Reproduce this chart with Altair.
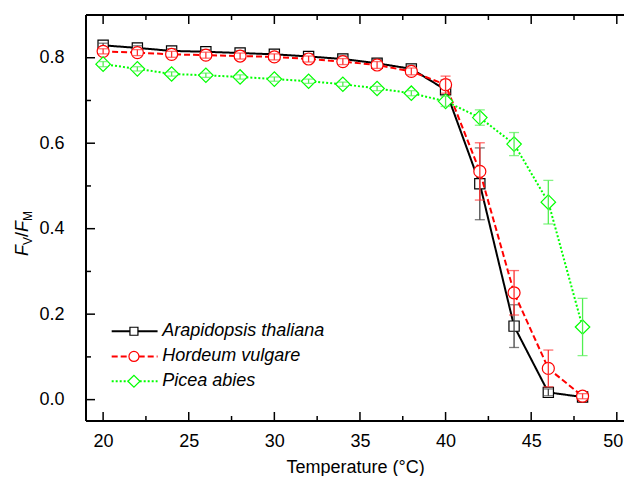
import altair as alt
import pandas as pd

# ---- data ----
temps = [20, 22, 24, 26, 28, 30, 32, 34, 36, 38, 40, 42, 44, 46, 48]
ara = [0.829, 0.823, 0.816, 0.814, 0.811, 0.808, 0.803, 0.797, 0.787, 0.774, 0.725, 0.505, 0.172, 0.017, 0.006]
ara_err = [0.005, 0.005, 0.005, 0.005, 0.005, 0.005, 0.006, 0.007, 0.009, 0.009, 0.023, 0.084, 0.050, 0.008, 0.005]
hor = [0.815, 0.812, 0.808, 0.806, 0.804, 0.802, 0.797, 0.791, 0.783, 0.768, 0.737, 0.534, 0.250, 0.073, 0.008]
hor_err = [0.006, 0.007, 0.007, 0.007, 0.007, 0.007, 0.007, 0.007, 0.008, 0.008, 0.020, 0.067, 0.052, 0.043, 0.006]
pic = [0.785, 0.774, 0.762, 0.759, 0.755, 0.750, 0.745, 0.738, 0.728, 0.717, 0.698, 0.660, 0.598, 0.462, 0.170]
pic_err = [0.006, 0.005, 0.005, 0.005, 0.005, 0.005, 0.005, 0.005, 0.005, 0.006, 0.012, 0.018, 0.027, 0.051, 0.067]

species = ["Arapidopsis thaliana", "Hordeum vulgare", "Picea abies"]
colors = ["#000000", "#FF0000", "#00FF00"]
errcolors = ["#444444", "#FF3030", "#50F050"]
shapes = ["square", "circle", "diamond"]
sizes = [105, 144, 210]
leg_sizes = [64, 100, 144]
dashes = [[1, 0], [6, 3], [2, 2]]

x_ticks_major = [20, 25, 30, 35, 40, 45, 50]
x_ticks_minor = [22.5, 27.5, 32.5, 37.5, 42.5, 47.5]
y_ticks_major = [0.0, 0.2, 0.4, 0.6, 0.8]
y_ticks_minor = [0.1, 0.3, 0.5, 0.7]

# legend placement (data units)
leg_x1, leg_x2, leg_xm, leg_xt = 20.5, 23.18, 21.8, 23.45
leg_y = [0.160, 0.101, 0.043]

# the reference's plot area runs past the right edge of the picture (axis ends near 51 °C);
# the visible part ends at about 50.42 °C
x_min, x_max_visible = 19, 50.42
y_min, y_max = -0.05, 0.9

W, H = 538, 406
FONT = "Liberation Sans"

xs = alt.Scale(domain=[x_min, x_max_visible], nice=False, zero=False)
ys = alt.Scale(domain=[y_min, y_max], nice=False, zero=False)
xaxis = alt.Axis(values=x_ticks_major, format="d", ticks=False, tickSize=0, domain=False, grid=False,
                 labelFontSize=18, labelFont=FONT, labelPadding=11, labelColor="black",
                 labelOffset={"condition": {"test": "datum.value == 50", "value": -4}, "value": 0},
                 title="Temperature (°C)", titleFontSize=18, titleFont=FONT, titleFontWeight="normal",
                 titlePadding=8, titleColor="black")
yaxis = alt.Axis(values=y_ticks_major, format=".1f", ticks=False, tickSize=0, domain=False, grid=False,
                 labelFontSize=18, labelFont=FONT, labelPadding=22, labelColor="black", title=None)


def X(f):
    return alt.X(f, type="quantitative", scale=xs, axis=xaxis)


def Y(f):
    return alt.Y(f, type="quantitative", scale=ys, axis=yaxis)


layers = []
one = pd.DataFrame({"a": [0]})

# frame: left, top, bottom (right edge lies outside the picture)
layers.append(alt.Chart(one).mark_rule(color="black", strokeWidth=2).encode(
    x=alt.value(0), y=alt.value(0), y2=alt.value(H)))
layers.append(alt.Chart(one).mark_rule(color="black", strokeWidth=2).encode(
    x=alt.value(0), x2=alt.value(W), y=alt.value(0)))
layers.append(alt.Chart(one).mark_rule(color="black", strokeWidth=2).encode(
    x=alt.value(0), x2=alt.value(W), y=alt.value(H)))

# tick marks (inward)
for vals, ln in [(x_ticks_major, 9), (x_ticks_minor, 5)]:
    d = pd.DataFrame({"v": vals})
    layers.append(alt.Chart(d).mark_rule(color="black", strokeWidth=1.5).encode(
        x=X("v"), y=alt.value(H - ln), y2=alt.value(H)))
    layers.append(alt.Chart(d).mark_rule(color="black", strokeWidth=1.5).encode(
        x=X("v"), y=alt.value(0), y2=alt.value(ln)))
for vals, ln in [(y_ticks_major, 9), (y_ticks_minor, 5)]:
    d = pd.DataFrame({"v": vals})
    layers.append(alt.Chart(d).mark_rule(color="black", strokeWidth=1.5).encode(
        y=Y("v"), x=alt.value(0), x2=alt.value(ln)))

series = [ara, hor, pic]
errs = [ara_err, hor_err, pic_err]
for i in range(3):
    df = pd.DataFrame({"T": temps, "v": series[i], "e": errs[i]})
    df["lo"] = df["v"] - df["e"]
    df["hi"] = df["v"] + df["e"]
    base = alt.Chart(df)
    layers.append(base.mark_line(color=colors[i], strokeWidth=2, strokeDash=dashes[i]).encode(
        x=X("T"), y=Y("v")))
    layers.append(base.mark_point(shape=shapes[i], size=sizes[i], filled=False, fill="white",
                                  fillOpacity=1, stroke=colors[i], strokeWidth=1.2, opacity=1).encode(
        x=X("T"), y=Y("v")))
    layers.append(base.mark_rule(color=errcolors[i], strokeWidth=1.3).encode(
        x=X("T"), y=Y("lo"), y2="hi"))
    layers.append(base.mark_tick(color=errcolors[i], orient="horizontal", size=10, thickness=1.3).encode(
        x=X("T"), y=Y("lo")))
    layers.append(base.mark_tick(color=errcolors[i], orient="horizontal", size=10, thickness=1.3).encode(
        x=X("T"), y=Y("hi")))

    # legend row
    ld = pd.DataFrame({"x1": [leg_x1], "x2": [leg_x2], "xm": [leg_xm], "xt": [leg_xt],
                       "y": [leg_y[i]], "name": [species[i]]})
    lb = alt.Chart(ld)
    layers.append(lb.mark_rule(color=colors[i], strokeWidth=2, strokeDash=dashes[i]).encode(
        x=X("x1"), x2="x2", y=Y("y")))
    layers.append(lb.mark_point(shape=shapes[i], size=leg_sizes[i], filled=False, fill="white",
                                fillOpacity=1, stroke=colors[i], strokeWidth=1.2, opacity=1).encode(
        x=X("xm"), y=Y("y")))
    layers.append(lb.mark_text(align="left", baseline="middle", fontSize=18, font=FONT,
                               fontStyle="italic", color="black").encode(
        x=X("xt"), y=Y("y"), text="name:N"))

# y-axis title  F_V / F_M  (rotated)
title_parts = [
    ("F", 18, "italic", -58, 241),
    ("V", 12, "normal", -54, 230),
    ("/", 18, "normal", -58, 222),
    ("F", 18, "italic", -58, 217),
    ("M", 12, "normal", -54, 206),
]
for txt, fs, st, px, py in title_parts:
    layers.append(alt.Chart(one).mark_text(angle=270, align="left", baseline="alphabetic",
                                           fontSize=fs, font=FONT, fontStyle=st, color="black").encode(
        x=alt.value(px), y=alt.value(py), text=alt.value(txt)))

chart = alt.layer(*layers).properties(
    width=W, height=H,
    autosize=alt.AutoSizeParams(type="none"),
    padding={"left": 78, "top": 7, "right": 0, "bottom": 55},
).configure_view(stroke=None).configure(background="white")

chart.save("out.html", embed_options={"renderer": "svg", "actions": False})
